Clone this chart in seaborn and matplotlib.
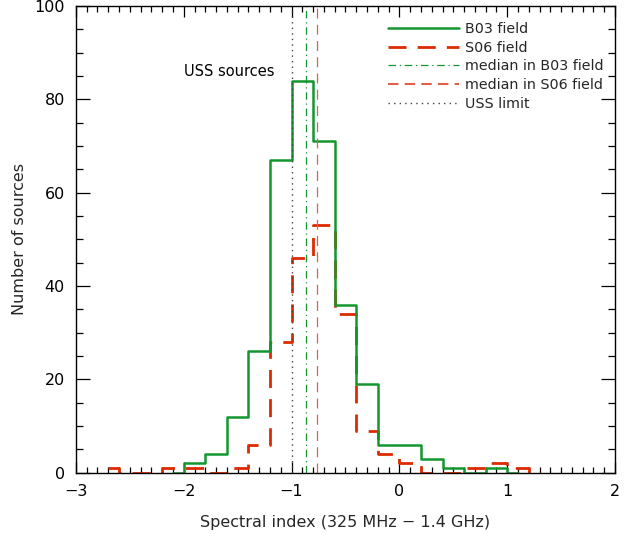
import numpy as np
import pandas as pd
import matplotlib
matplotlib.use("Agg")
import matplotlib.pyplot as plt
import seaborn as sns
from matplotlib.lines import Line2D
from matplotlib.ticker import MultipleLocator

# Bin centres (bin width 0.2) and counts
b03_centers = [-2.1, -1.9, -1.7, -1.5, -1.3, -1.1, -0.9, -0.7, -0.5, -0.3,
               -0.1, 0.1, 0.3, 0.5, 0.7, 0.9, 1.1]
b03_counts = [0, 2, 4, 12, 26, 67, 84, 71, 36, 19, 6, 6, 3, 1, 0, 1, 0]

s06_centers = [-2.7, -2.5, -2.3, -2.1, -1.9, -1.7, -1.5, -1.3, -1.1, -0.9,
               -0.7, -0.5, -0.3, -0.1, 0.1, 0.3, 0.5, 0.7, 0.9, 1.1, 1.3]
s06_counts = [1, 0, 0, 1, 1, 0, 1, 6, 28, 46, 53, 34, 9, 4, 2, 0, 0, 1, 2, 1, 0]

median_b03 = -0.87
median_s06 = -0.76
uss_limit = -1.0

labels = ["B03 field", "S06 field", "median in B03 field",
          "median in S06 field", "USS limit"]

green = "#14962f"
red = "#dd2a00"
light_red = "#e0604c"

sns.set_theme(style="ticks")
plt.rcParams['font.family'] = ['DejaVu Sans']
plt.rcParams['axes.linewidth'] = 1.0

fig = plt.figure(figsize=(6.38, 5.37), dpi=100)
ax = fig.add_axes([0.119, 0.1197, 0.845, 0.869])

df_b = pd.DataFrame({"x": b03_centers, "y": b03_counts})
df_s = pd.DataFrame({"x": s06_centers, "y": s06_counts})

sns.lineplot(data=df_s, x="x", y="y", ax=ax, color=red, lw=2.0,
             drawstyle="steps-mid", dashes=False, sort=False,
             linestyle=(0, (6.5, 4)))
sns.lineplot(data=df_b, x="x", y="y", ax=ax, color=green, lw=1.8,
             drawstyle="steps-mid", sort=False)

ax.axvline(median_b03, color=green, lw=0.9, linestyle=(0, (6, 3, 1, 3)))
ax.axvline(median_s06, color=light_red, lw=0.9, linestyle=(0, (8, 5)))
ax.axvline(uss_limit, color="#444444", lw=1.0, linestyle=(0, (1, 3)))

ax.text(-2.0, 86, "USS sources", ha="left", va="center", fontsize=10.5,
        color="black")

ax.set_xlim(-3, 2)
ax.set_ylim(0, 100)
ax.xaxis.set_major_locator(MultipleLocator(1))
ax.xaxis.set_minor_locator(MultipleLocator(0.1))
ax.yaxis.set_major_locator(MultipleLocator(20))
ax.yaxis.set_minor_locator(MultipleLocator(5))
ax.tick_params(which="both", direction="in", top=True, right=True,
               colors="black", labelsize=11.5, width=0.9)
ax.tick_params(axis="x", which="major", length=8, pad=8)
ax.tick_params(axis="x", which="minor", length=4)
ax.tick_params(axis="y", which="major", length=10, pad=8)
ax.tick_params(axis="y", which="minor", length=5)

ax.set_xlabel("Spectral index (325 MHz \u2212 1.4 GHz)", fontsize=11.5,
              labelpad=12)
ax.set_ylabel("Number of sources", fontsize=11.5, labelpad=5)
for s in ax.spines.values():
    s.set_color("black")

handles = [
    Line2D([], [], color=green, lw=1.8),
    Line2D([], [], color=red, lw=2.0, linestyle=(0, (6.5, 4))),
    Line2D([], [], color=green, lw=0.9, linestyle=(0, (6, 3, 1, 3))),
    Line2D([], [], color=light_red, lw=1.5, linestyle=(0, (5, 3))),
    Line2D([], [], color="#444444", lw=1.0, linestyle=(0, (1, 3))),
]
ax.legend(handles, labels, loc="upper left", bbox_to_anchor=(0.578, 0.966),
          frameon=False, fontsize=10.3, handlelength=5.0, handletextpad=0.4,
          labelspacing=0.33, borderpad=0, borderaxespad=0)

fig.savefig("out.png", dpi=100)
